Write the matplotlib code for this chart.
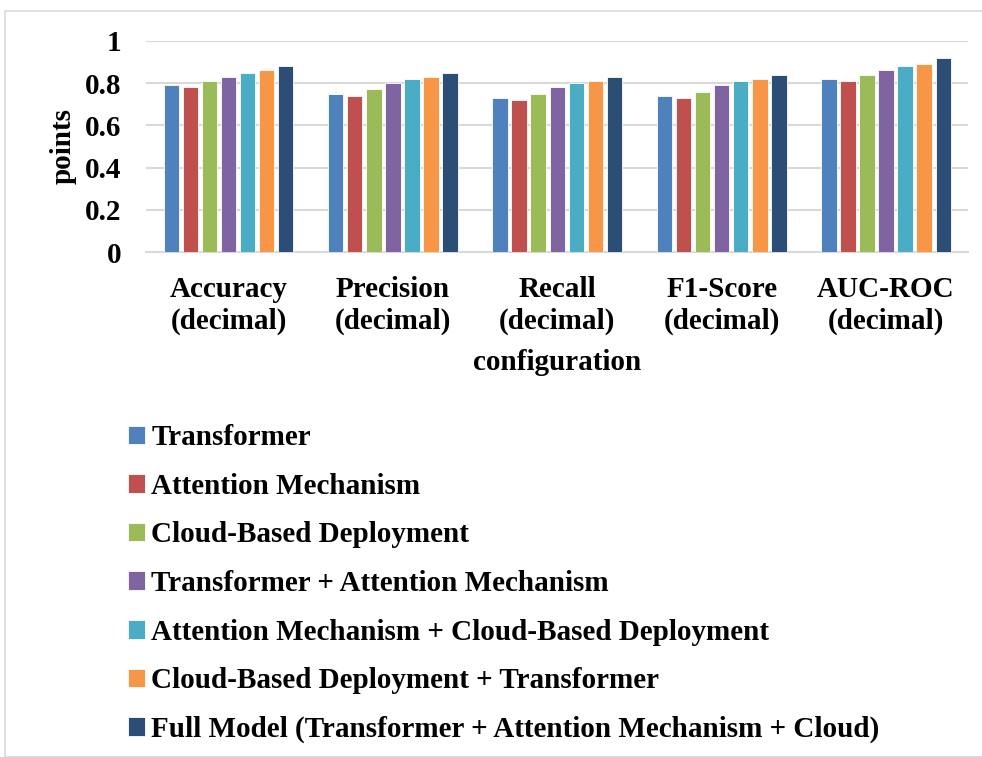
import matplotlib
matplotlib.use("Agg")
import matplotlib.pyplot as plt
import numpy as np
from matplotlib.patches import Rectangle

categories = ["Accuracy\n(decimal)", "Precision\n(decimal)", "Recall\n(decimal)",
              "F1-Score\n(decimal)", "AUC-ROC\n(decimal)"]
series_names = [
    "Transformer",
    "Attention Mechanism",
    "Cloud-Based Deployment",
    "Transformer + Attention Mechanism",
    "Attention Mechanism + Cloud-Based Deployment",
    "Cloud-Based Deployment + Transformer",
    "Full Model (Transformer + Attention Mechanism + Cloud)",
]
transformer = [0.79, 0.75, 0.73, 0.74, 0.82]
attention = [0.78, 0.74, 0.72, 0.73, 0.81]
cloud = [0.81, 0.77, 0.75, 0.76, 0.84]
trans_attn = [0.83, 0.80, 0.78, 0.79, 0.86]
attn_cloud = [0.85, 0.82, 0.80, 0.81, 0.88]
cloud_trans = [0.86, 0.83, 0.81, 0.82, 0.89]
full_model = [0.88, 0.85, 0.83, 0.84, 0.92]
yticks = [0, 0.2, 0.4, 0.6, 0.8, 1]
ytick_labels = ["0", "0.2", "0.4", "0.6", "0.8", "1"]

series = [transformer, attention, cloud, trans_attn, attn_cloud, cloud_trans, full_model]
colors = ["#4f81bd", "#c0504d", "#9bbb59", "#8064a2", "#4bacc6", "#f79646", "#2c4d75"]

plt.rcParams["font.family"] = ["Liberation Serif", "DejaVu Serif"]
plt.rcParams["font.weight"] = "bold"

FS = 21

fig = plt.figure(figsize=(9.82, 7.57), dpi=100)
ax = fig.add_axes([0.149, 0.667, 0.837, 0.279])

x = np.arange(len(categories))
slot = 0.116
bw = 0.094
for i, (vals, col, name) in enumerate(zip(series, colors, series_names)):
    offs = (i - 3) * slot
    ax.bar(x + offs, vals, width=bw, color=col, label=name,
           edgecolor="white", linewidth=0.6, zorder=3)

ax.set_xlim(-0.5, len(categories) - 0.5)
ax.set_ylim(0, 1)
ax.set_yticks(yticks)
ax.set_yticklabels(ytick_labels, fontsize=FS, fontweight="bold")
ax.set_xticks(x)
ax.set_xticklabels(categories, fontsize=FS, fontweight="bold", linespacing=1.22)
ax.tick_params(axis="both", length=0)
ax.tick_params(axis="x", pad=17)
ax.tick_params(axis="y", pad=18)
ax.grid(axis="y", color="#d9d9d9", linewidth=1.5, zorder=0)
for s in ["top", "right", "left"]:
    ax.spines[s].set_visible(False)
ax.spines["bottom"].set_color("#d9d9d9")
ax.spines["bottom"].set_linewidth(1.5)

ax.set_ylabel("points", fontsize=FS, fontweight="bold", labelpad=6)
ax.set_xlabel("configuration", fontsize=FS, fontweight="bold", labelpad=10)

handles, labels = ax.get_legend_handles_labels()
leg = fig.legend(handles, labels, loc="upper left", bbox_to_anchor=(0.118, 0.455),
                 frameon=False, fontsize=FS, handlelength=0.6, handleheight=0.6,
                 handletextpad=0.22, labelspacing=0.74, borderaxespad=0)
for t in leg.get_texts():
    t.set_fontweight("bold")

fig.patches.append(Rectangle((5 / 982, 0), 1.0, 1 - 11 / 757, transform=fig.transFigure,
                             fill=False, edgecolor="#d9d9d9", linewidth=1.2))

fig.savefig("out.png", dpi=100)
